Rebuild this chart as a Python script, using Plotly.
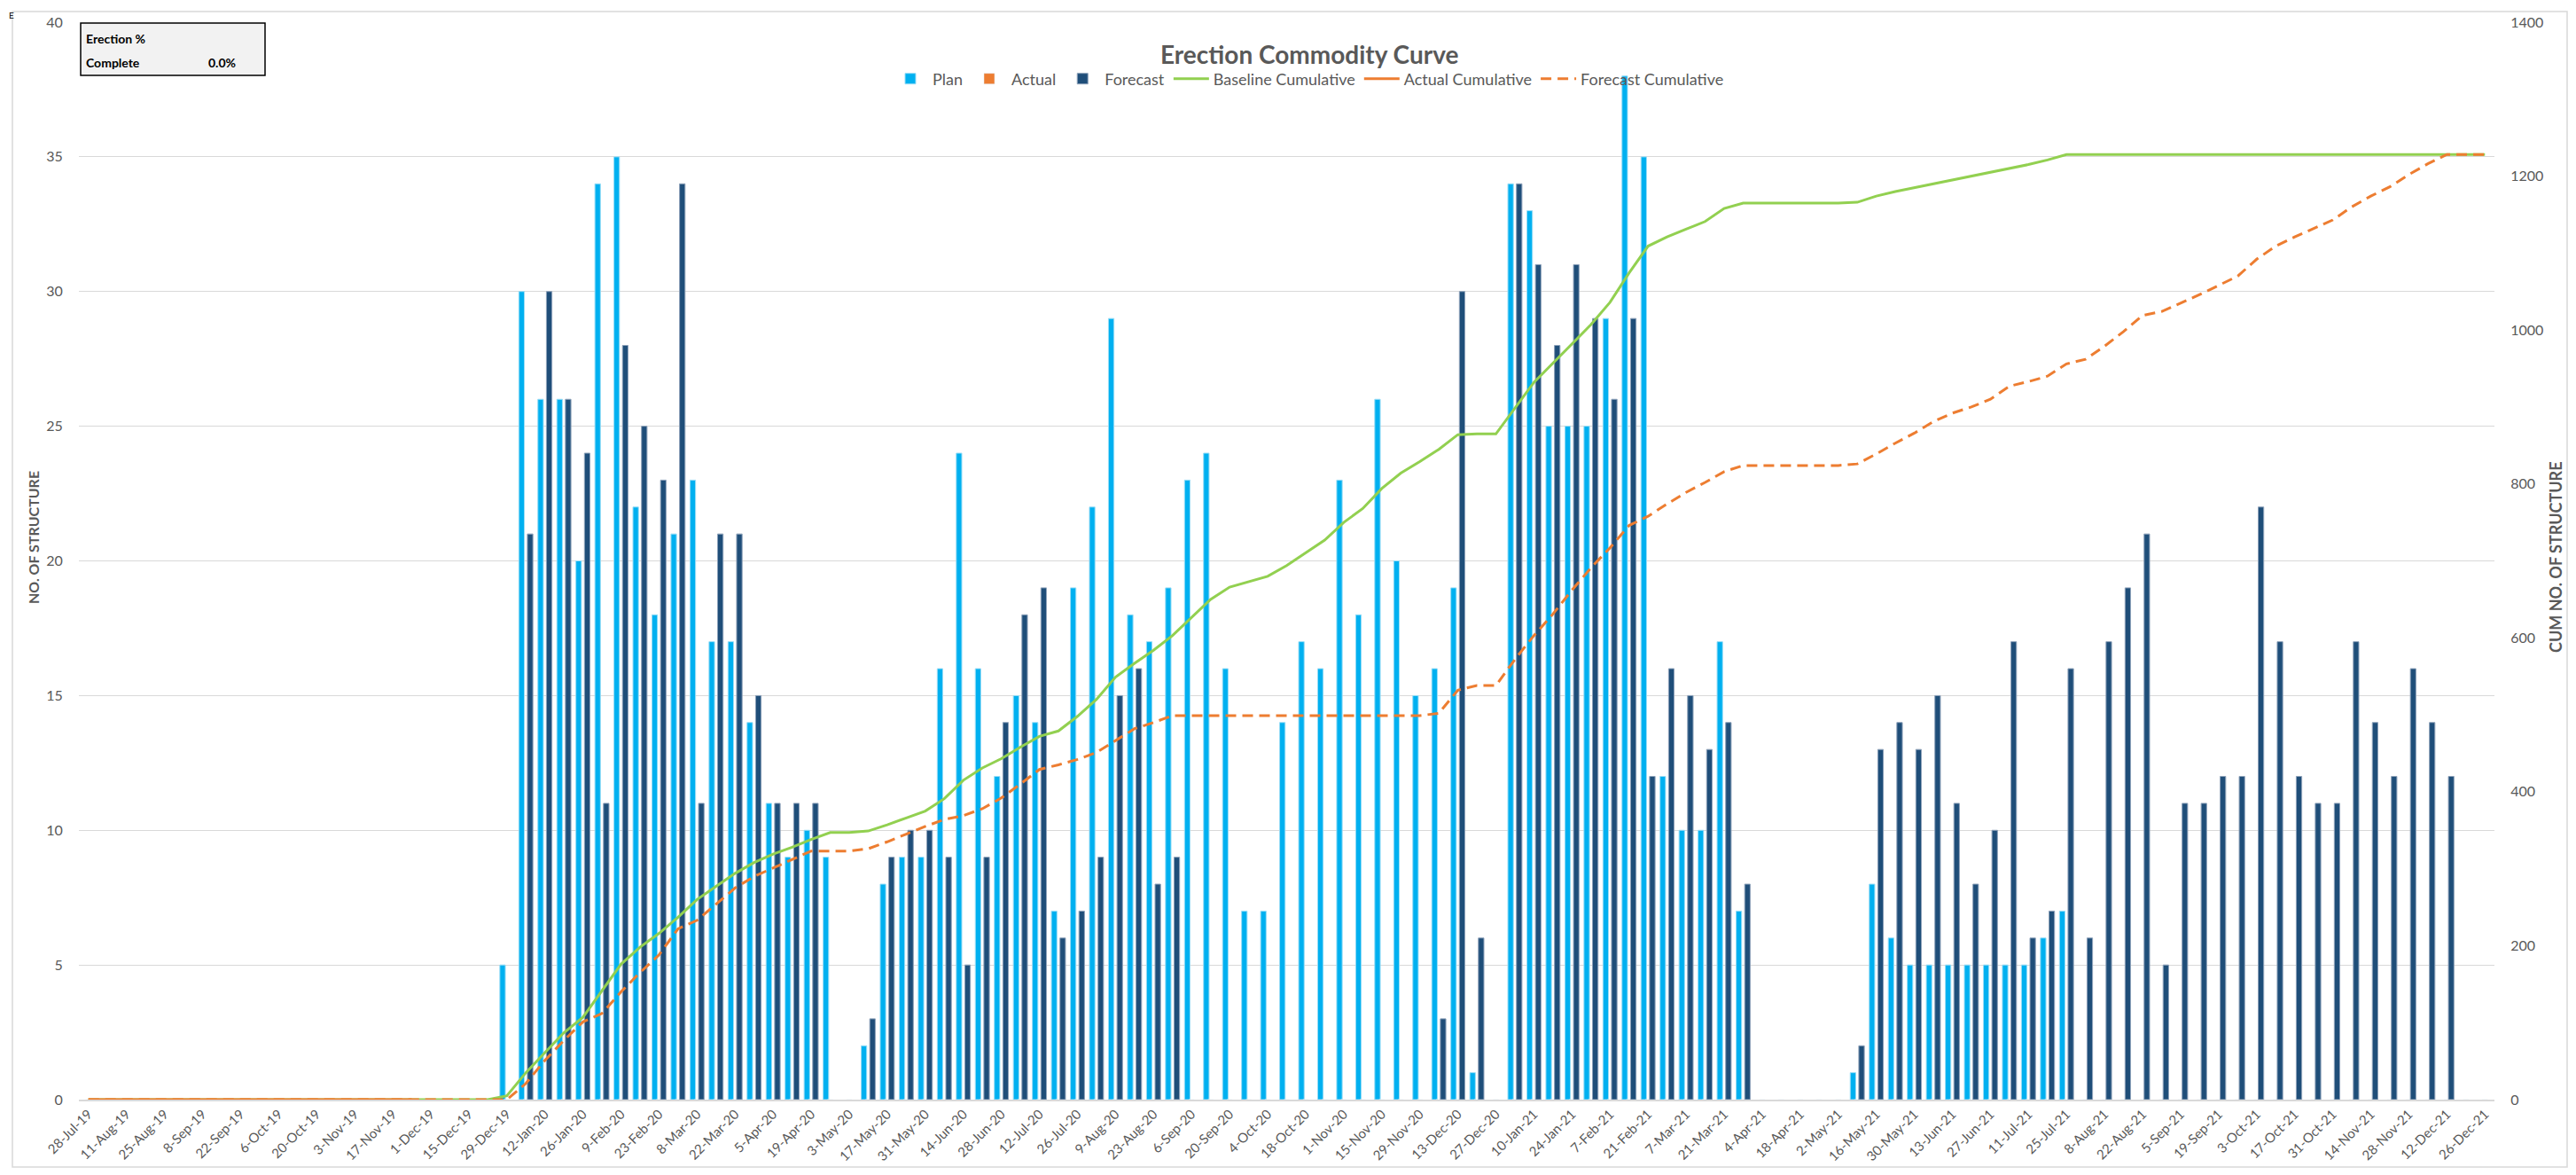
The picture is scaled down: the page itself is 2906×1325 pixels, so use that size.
import pandas as pd
import plotly.graph_objects as go

# weekly categories, 28-Jul-19 .. 26-Dec-21
weeks = pd.date_range("2019-07-28", "2021-12-26", freq="7D")
week_labels = [f"{d.day}-{d.strftime('%b-%y')}" for d in weeks]
tick_labels = week_labels[::2]

plan = ([0] * 22
        + [5, 30, 26, 26, 20, 34, 35, 22, 18, 21, 23, 17, 17, 14, 11, 9, 10, 9, 0, 2, 8, 9, 9,
           16, 24, 16, 12, 15, 14, 7, 19, 22, 29, 18, 17, 19, 23, 24, 16, 7, 7, 14, 17, 16, 23,
           18, 26, 20, 15, 16, 19, 1, 0, 34, 33, 25, 25, 25, 29, 38, 35, 12, 10, 10, 17, 7]
        + [0] * 5
        + [1, 8, 6, 5, 5, 5, 5, 5, 5, 5, 6, 7]
        + [0] * 22)

actual = [0] * 127

forecast = ([0] * 23
            + [21, 30, 26, 24, 11, 28, 25, 23, 34, 11, 21, 21, 15, 11, 11, 11, 0, 0, 3, 9, 10, 10,
               9, 5, 9, 14, 18, 19, 6, 7, 9, 15, 16, 8, 9]
            + [0] * 13
            + [3, 30, 6, 0, 34, 31, 28, 31, 29, 26, 29, 12, 16, 15, 13, 14, 8]
            + [0] * 5
            + [2, 13, 14, 13, 15, 11, 8, 10, 17, 6, 7, 16, 6, 17, 19, 21, 5, 11, 11, 12,
               12, 22, 17, 12, 11, 11, 17, 14, 12, 16, 14, 12, 0, 0])

baseline_cum = ([0] * 22
                + [5, 35, 61, 87, 107, 141, 176, 198, 216, 237, 260, 277, 294, 308, 319, 328, 338,
                   347, 347, 349, 357, 366, 375, 391, 415, 431, 443, 458, 472, 479, 498, 520, 549,
                   567, 584, 603, 626, 650, 666, 673, 680, 694, 711, 727, 750, 768, 794, 814, 829,
                   845, 864, 865, 865, 899, 932, 957, 982, 1007, 1036, 1074, 1109, 1121, 1131,
                   1141, 1158, 1165]
                + [1165] * 5
                + [1166, 1174, 1180, 1185, 1190, 1195, 1200, 1205, 1210, 1215, 1221, 1228]
                + [1228] * 22)

actual_cum = [0] * 18

forecast_cum = ([0] * 23
                + [21, 51, 77, 101, 112, 140, 165, 188, 222, 233, 254, 275, 290, 301, 312, 323,
                   323, 323, 326, 335, 345, 355, 364, 369, 378, 392, 410, 429, 435, 442, 451, 466,
                   482, 490, 499]
                + [499] * 13
                + [502, 532, 538, 538, 572, 603, 631, 662, 691, 717, 746, 758, 774, 789, 802, 816,
                   824]
                + [824] * 5
                + [826, 839, 853, 866, 881, 892, 900, 910, 927, 933, 940, 956, 962, 979, 998,
                   1019, 1024, 1035, 1046, 1058, 1070, 1092, 1109, 1121, 1132, 1143, 1160, 1174,
                   1186, 1202, 1216, 1228, 1228, 1228])

FONT = "Lato"
GREY = "#595959"


def no_zero(vals):
    return [v if v else None for v in vals]


fig = go.Figure()
fig.add_trace(go.Bar(x=week_labels, y=no_zero(plan), name="Plan", marker_color="#00B0F0",
                     marker_line=dict(color="#9ADDF6", width=1), width=0.29, offset=-0.37))
fig.add_trace(go.Bar(x=week_labels, y=actual, name="Actual", marker_color="#ED7D31",
                     width=0.29, offset=-0.145))
fig.add_trace(go.Bar(x=week_labels, y=no_zero(forecast), name="Forecast", marker_color="#1F4E79",
                     marker_line=dict(color="#8EA2BA", width=1), width=0.29, offset=0.08))
fig.add_trace(go.Scatter(x=week_labels, y=baseline_cum, name="Baseline Cumulative", yaxis="y2",
                         mode="lines", line=dict(color="#92D050", width=3)))
fig.add_trace(go.Scatter(x=week_labels[:len(actual_cum)], y=actual_cum, name="Actual Cumulative",
                         yaxis="y2", mode="lines", line=dict(color="#ED7D31", width=3)))
fig.add_trace(go.Scatter(x=week_labels, y=forecast_cum, name="Forecast Cumulative", yaxis="y2",
                         mode="lines", line=dict(color="#ED7D31", width=3, dash="12px,7px")))


# page pixel -> paper coords (plot area 89..2814 x 25..1240 on the page)
def px_x(v):
    return (v - 89) / 2725


def px_y(v):
    return (1240 - v) / 1215


# figure is inset by the 8px body margin of the page
fig.update_layout(
    width=2890, height=1309,
    margin=dict(l=81, r=84, t=17, b=77, autoexpand=False),
    paper_bgcolor="white", plot_bgcolor="white",
    barmode="overlay",
    font=dict(family=FONT, color=GREY, size=16),
    showlegend=True,
    legend=dict(orientation="h", x=px_x(1476), xanchor="center", y=px_y(89), yanchor="middle",
                font=dict(size=18, color=GREY), bgcolor="rgba(0,0,0,0)", itemwidth=40),
    xaxis=dict(type="category", categoryorder="array", categoryarray=week_labels,
               range=[-0.5, len(week_labels) - 0.5], automargin=False,
               tickmode="array", tickvals=tick_labels, ticktext=tick_labels,
               tickangle=-45, tickfont=dict(size=15, color=GREY),
               showgrid=False, showline=True, linecolor="#D9D9D9", linewidth=1.5,
               ticks="", ticklen=0),
    yaxis=dict(range=[0, 40], dtick=5, showgrid=True, gridcolor="#D9D9D9", gridwidth=1,
               zeroline=False, tickfont=dict(size=16, color=GREY), automargin=False,
               ticks="outside", ticklen=14, tickcolor="rgba(0,0,0,0)"),
    yaxis2=dict(range=[0, 1400], dtick=200, overlaying="y", side="right", showgrid=False,
                zeroline=False, tickfont=dict(size=16, color=GREY), automargin=False,
                ticks="outside", ticklen=14, tickcolor="rgba(0,0,0,0)"),
)

# outer chart border
fig.add_shape(type="rect", xref="paper", yref="paper",
              x0=px_x(14), x1=px_x(2896), y0=px_y(1316), y1=px_y(13),
              line=dict(color="#D9D9D9", width=1.5), fillcolor="rgba(0,0,0,0)", layer="below")

# percent complete box
fig.add_shape(type="rect", xref="paper", yref="paper",
              x0=px_x(91), x1=px_x(299), y0=px_y(85), y1=px_y(26),
              line=dict(color="black", width=1.5), fillcolor="#F2F2F2")

notes = [
    dict(text="<b>Erection %</b>", x=px_x(95), y=px_y(44), xanchor="left"),
    dict(text="<b>Complete</b>", x=px_x(95), y=px_y(70), xanchor="left"),
    dict(text="<b>0.0%</b>", x=px_x(268), y=px_y(70), xanchor="right"),
]
for n in notes:
    fig.add_annotation(xref="paper", yref="paper", yanchor="middle", showarrow=False,
                       font=dict(family=FONT, size=14, color="black"), **n)

fig.add_annotation(text="E", xref="paper", yref="paper", x=px_x(13), y=px_y(17),
                   xanchor="center", yanchor="middle", showarrow=False,
                   font=dict(family=FONT, size=10, color="black"))

fig.add_annotation(text="<b>Erection Commodity Curve</b>", xref="paper", yref="paper",
                   x=px_x(1477), y=px_y(61), xanchor="center", yanchor="middle", showarrow=False,
                   font=dict(family=FONT, size=28, color=GREY))

fig.add_annotation(text="<b>NO. OF STRUCTURE</b>", xref="paper", yref="paper",
                   x=px_x(37), y=px_y(606), xanchor="center", yanchor="middle",
                   textangle=-90, showarrow=False,
                   font=dict(family=FONT, size=16, color=GREY))
fig.add_annotation(text="<b>CUM NO. OF STRUCTURE</b>", xref="paper", yref="paper",
                   x=px_x(2883), y=px_y(628), xanchor="center", yanchor="middle",
                   textangle=-90, showarrow=False,
                   font=dict(family=FONT, size=18, color=GREY))

fig.write_html("out.html")
